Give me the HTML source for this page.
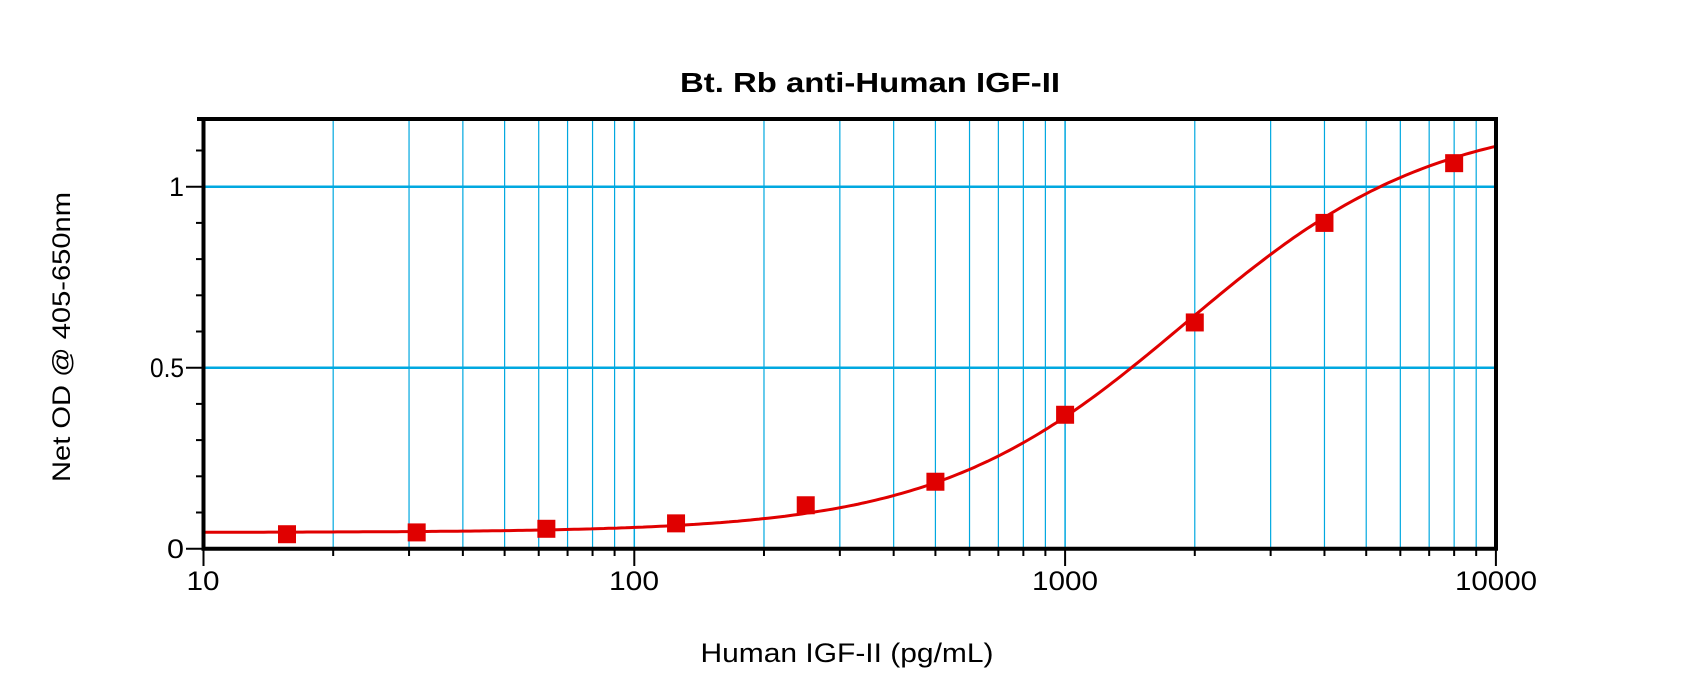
<!DOCTYPE html>
<html><head><meta charset="utf-8"><style>html,body{margin:0;padding:0;background:#fff}svg{display:block}</style></head>
<body>
<svg id="s" width="1700" height="697" xmlns="http://www.w3.org/2000/svg" font-family="Liberation Sans, Arial, sans-serif">
<rect width="1700" height="697" fill="#fff"/>
<g id="grid" stroke="#00a8e0"></g>
<path id="curve" fill="none" stroke="#e00000" stroke-width="3"/>
<g id="pts" fill="#e00000"></g>
<g id="axes" stroke="#000"></g>
<text x="870" y="92" font-size="28" font-weight="bold" text-anchor="middle" textLength="380" lengthAdjust="spacingAndGlyphs">Bt. Rb anti-Human IGF-II</text>
<text x="847" y="662" font-size="27" text-anchor="middle" textLength="293" lengthAdjust="spacingAndGlyphs">Human IGF-II (pg/mL)</text>
<text transform="translate(70,337) rotate(-90)" font-size="25" text-anchor="middle" textLength="290" lengthAdjust="spacingAndGlyphs">Net OD @ 405-650nm</text>
<g font-size="27" text-anchor="middle">
<text x="203" y="590" textLength="33" lengthAdjust="spacingAndGlyphs">10</text><text x="634" y="590" textLength="50" lengthAdjust="spacingAndGlyphs">100</text><text x="1065" y="590" textLength="66" lengthAdjust="spacingAndGlyphs">1000</text><text x="1496" y="590" textLength="82" lengthAdjust="spacingAndGlyphs">10000</text>
</g>
<g font-size="27" text-anchor="end">
<text x="184" y="558" textLength="17" lengthAdjust="spacingAndGlyphs">0</text><text x="184" y="377" textLength="34" lengthAdjust="spacingAndGlyphs">0.5</text><text x="184" y="196" textLength="15" lengthAdjust="spacingAndGlyphs">1</text>
</g>
</svg>
<script>
var NS="http://www.w3.org/2000/svg";
function X(v){return 203.5+430.8*Math.log10(v/10);}
function Y(o){return 548.7-362*o;}
function L(g,x1,y1,x2,y2,w){var l=document.createElementNS(NS,"line");l.setAttribute("x1",x1);l.setAttribute("y1",y1);l.setAttribute("x2",x2);l.setAttribute("y2",y2);l.setAttribute("stroke-width",w);document.getElementById(g).appendChild(l);}
for(var d=10;d<10000;d*=10)for(var k=1;k<10;k++){var v=d*k;if(v==10)continue;var x=X(v);L("grid",x,119,x,548.7,k==1?1.5:1.2);}
L("grid",203.5,Y(0.5),1496,Y(0.5),2.5);L("grid",203.5,Y(1),1496,Y(1),2.5);
function f(x){return 0.045+1.155/(1+Math.pow(1900/x,1.5));}
var p="";for(var i=0;i<=300;i++){var lv=1+3*i/300,v=Math.pow(10,lv);p+=(i?"L":"M")+X(v).toFixed(1)+","+Y(f(v)).toFixed(1);}
document.getElementById("curve").setAttribute("d",p);
var pts=[[15.625,0.04],[31.25,0.045],[62.5,0.055],[125,0.07],[250,0.12],[500,0.185],[1000,0.37],[2000,0.625],[4000,0.9],[8000,1.065]];
pts.forEach(function(q){var r=document.createElementNS(NS,"rect");r.setAttribute("x",X(q[0])-9);r.setAttribute("y",Y(q[1])-9);r.setAttribute("width",18);r.setAttribute("height",18);document.getElementById("pts").appendChild(r);});
L("axes",203.5,119,203.5,550.5,4);L("axes",201.5,548.7,1498,548.7,4);L("axes",197,119,1498,119,4);L("axes",1496,117,1496,550.5,4);
for(var j=0;j<=11;j++){var y=Y(j*0.1);var maj=(j%5==0);L("axes",maj?186:196,y,203.5,y,2);}
for(var d=10;d<=10000;d*=10)for(var k=1;k<10;k++){var v=d*k;if(v>10000)break;var x=X(v);L("axes",x,548.7,x,k==1?566:556,2);}
</script>
</body></html>
